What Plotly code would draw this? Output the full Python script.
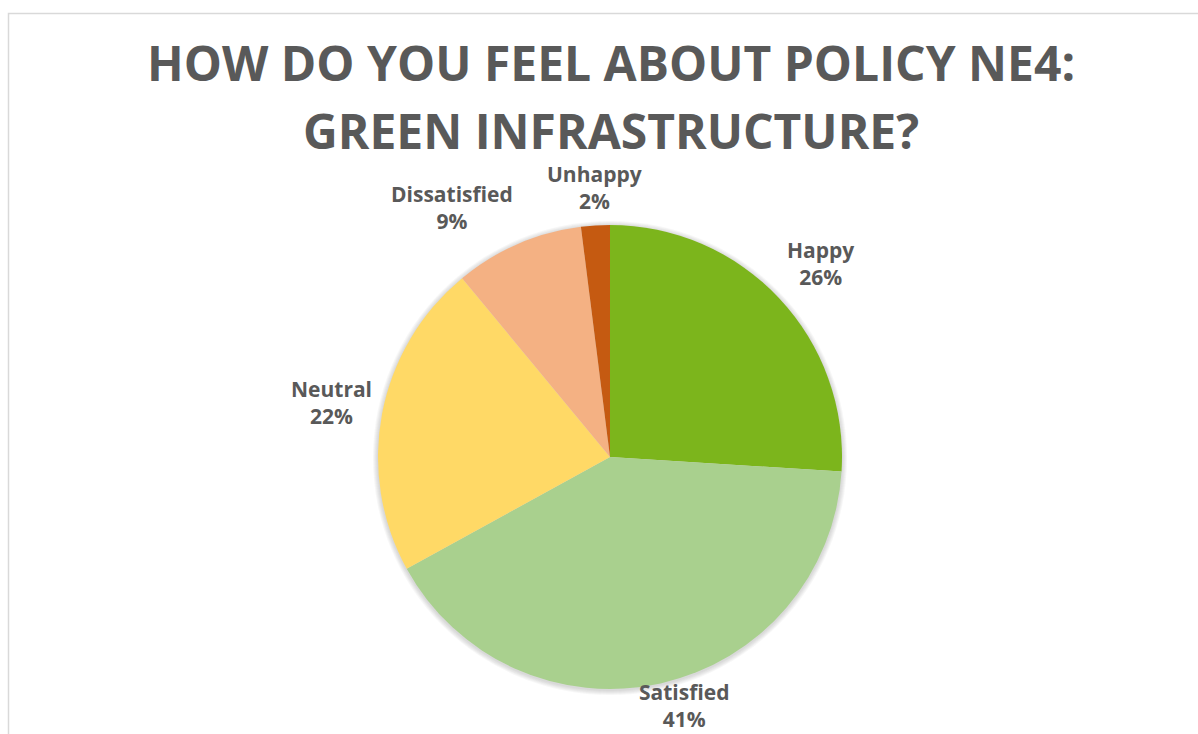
import math
import plotly.graph_objects as go

# Survey responses for Policy NE4
categories = ["Happy", "Satisfied", "Neutral", "Dissatisfied", "Unhappy"]
shares = [26, 41, 22, 9, 2]
slice_colors = ["#7CB51C", "#A9D08E", "#FFD966", "#F4B183", "#C55A11"]

title_lines = ["HOW DO YOU FEEL ABOUT POLICY NE4:", "GREEN INFRASTRUCTURE?"]

W, H = 1198, 734
CX, CY, R = 610, 457, 232  # pie centre and radius in pixels
TEXT = "#595959"
FONT = "Open Sans"

fig = go.Figure()

fig.add_trace(go.Pie(
    labels=categories,
    values=shares,
    marker=dict(colors=slice_colors, line=dict(width=0)),
    sort=False,
    direction="clockwise",
    rotation=0,
    textinfo="none",
    hoverinfo="label+percent",
    showlegend=False,
    domain=dict(x=[(CX - R) / W, (CX + R) / W],
                y=[1 - (CY + R) / H, 1 - (CY - R) / H]),
))

# Outside data labels, placed just beyond the rim at each slice's mid-angle
annotations = []
total = sum(shares)
cum = 0.0
for name, v in zip(categories, shares):
    mid = (cum + v / 2) / total * 2 * math.pi
    cum += v
    s, c = math.sin(mid), math.cos(mid)
    ra = R + 9
    px = CX + s * ra
    py = CY - c * ra
    xa = "left" if s > 0.3 else ("right" if s < -0.3 else "center")
    ya = "bottom" if c > 0.3 else ("top" if c < -0.3 else "middle")
    if ya == "middle":
        py -= 50 * c
    if ya == "top":
        py = min(py, H - 57)  # keep the label inside the chart area
        px += 100 * s
    annotations.append(dict(
        x=px / W, y=1 - py / H, xref="paper", yref="paper",
        xanchor=xa, yanchor=ya, borderpad=0,
        text=f"<b>{name}<br>{round(100 * v / total)}%</b>",
        showarrow=False, align="center",
        font=dict(family=FONT, size=21, color=TEXT),
    ))

# Two-line chart title
for i, line in enumerate(title_lines):
    annotations.append(dict(
        x=611 / W, y=1 - (29 + 68 * i) / H, xref="paper", yref="paper",
        xanchor="center", yanchor="top", borderpad=0,
        text=f"<b>{line}</b>",
        showarrow=False, align="center",
        font=dict(family=FONT, size=48, color=TEXT),
    ))

# Light grey chart-area frame
shapes = [dict(type="rect", xref="paper", yref="paper",
               x0=8.5 / W, y0=-0.05, x1=1.05, y1=1 - 13.5 / H,
               line=dict(color="#D9D9D9", width=1.5), fillcolor="rgba(0,0,0,0)")]

# Soft shadow ring around the pie
for k in range(1, 6):
    rr = R + k
    shapes.append(dict(type="circle", xref="paper", yref="paper", layer="below",
                       x0=(CX - rr) / W, x1=(CX + rr) / W,
                       y0=1 - (CY + rr + 1) / H, y1=1 - (CY - rr + 1) / H,
                       fillcolor="rgba(90,90,90,0.05)", line=dict(width=0)))

fig.update_layout(
    width=W, height=H,
    margin=dict(l=0, r=0, t=0, b=0),
    paper_bgcolor="white",
    plot_bgcolor="white",
    annotations=annotations,
    shapes=shapes,
)

fig.write_html("out.html")
